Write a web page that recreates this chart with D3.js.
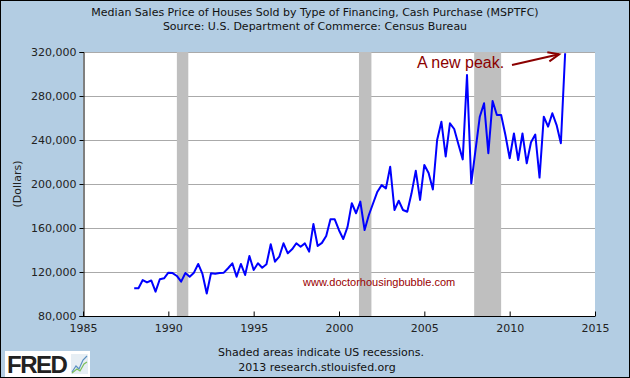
<!DOCTYPE html>
<html><head><meta charset="utf-8">
<script src="https://cdn.jsdelivr.net/npm/d3@7"></script>
<style>body{margin:0;padding:0;background:#fff}svg{display:block}</style>
</head><body>
<script>
const startYear = 1988;
const values = [
105.2,105.2,112.7,110.5,
112.3,102.1,113.4,114.3,
119.4,119.0,116.4,111.2,
119.1,115.7,119.4,127.3,
118.2,100.5,118.8,118.5,
119.0,119.4,123.4,127.9,
115.7,127.3,117.3,134.5,
121.8,127.9,123.9,127.0,
145.2,129.4,133.9,146.1,
137.0,140.6,146.1,143.0,
146.0,138.5,163.6,143.6,
146.5,152.7,167.9,167.9,
158.0,150.0,161.0,182.5,
173.4,184.0,158.2,171.8,
182.5,193.0,199.0,196.0,
215.7,176.4,184.8,176.4,
174.8,191.5,212.0,185.5,
217.3,210.0,195.0,240.0,
256.6,225.0,255.2,250.0,
236.0,222.4,299.1,200.6,
231.0,261.2,273.4,228.0,
275.5,262.7,262.7,244.5,
223.4,246.0,221.8,246.0,
218.8,238.0,245.0,205.8,
261.2,252.1,264.3,253.6,
237.0,318.8
];
const recessions = [[1990.5,1991.17],[2001.17,2001.9],[2007.92,2009.5]];
const xTicks = [1985,1990,1995,2000,2005,2010,2015];
const yTicks = [80000,120000,160000,200000,240000,280000,320000];
const data = values.map((v,i)=>({t:startYear+i*0.25, v:v*1000}));

const W=630,H=378;
const svg=d3.select("body").append("svg").attr("width",W).attr("height",H);
svg.append("rect").attr("x",0.5).attr("y",0.5).attr("width",W-1).attr("height",H-1)
  .attr("fill","#b3cde3").attr("stroke","#000");
const L=83,R=595,T=52,B=316;
const x=d3.scaleLinear().domain([1985,2015]).range([L,R]);
const y=d3.scaleLinear().domain([80000,320000]).range([B,T]);
svg.append("rect").attr("x",L).attr("y",T).attr("width",R-L).attr("height",B-T).attr("fill","#fff");
// gridlines
svg.append("g").selectAll("line").data(yTicks.slice(1)).join("line")
  .attr("x1",L).attr("x2",R).attr("y1",d=>Math.round(y(d))+0.5).attr("y2",d=>Math.round(y(d))+0.5)
  .attr("stroke","#aaaaaa").attr("stroke-width",1);
// recessions
svg.append("g").selectAll("rect").data(recessions).join("rect")
  .attr("x",d=>x(d[0])).attr("width",d=>x(d[1])-x(d[0])).attr("y",T).attr("height",B-T)
  .attr("fill","#bfbfbf");
// axes
const font="DejaVu Sans, Verdana, sans-serif";
const yAxis=svg.append("g").attr("transform",`translate(${L+0.5},0)`)
  .call(d3.axisLeft(y).tickValues(yTicks).tickFormat(d3.format(",")).tickSize(4).tickPadding(3));
yAxis.select(".domain").attr("stroke","#000");
yAxis.selectAll("text").attr("font-family",font).attr("font-size",11).attr("fill","#222");
const xAxis=svg.append("g").attr("transform",`translate(0,${B+0.5})`)
  .call(d3.axisBottom(x).tickValues(xTicks).tickFormat(d3.format("d")).tickSize(-5).tickPadding(8));
xAxis.select(".domain").attr("stroke","#000").attr("d",`M${L},0H${R}`);
xAxis.selectAll("text").attr("font-family",font).attr("font-size",11).attr("fill","#222");
// line
svg.append("path").datum(data).attr("fill","none").attr("stroke","#0000ff").attr("stroke-width",2)
  .attr("stroke-linejoin","round")
  .attr("d",d3.line().x(d=>x(d.t)).y(d=>y(d.v)));
// titles
svg.append("text").attr("x",315).attr("y",16).attr("text-anchor","middle").attr("font-family",font)
  .attr("font-size",11).attr("fill","#111").text("Median Sales Price of Houses Sold by Type of Financing, Cash Purchase (MSPTFC)");
svg.append("text").attr("x",315).attr("y",30).attr("text-anchor","middle").attr("font-family",font)
  .attr("font-size",11).attr("fill","#111").text("Source: U.S. Department of Commerce: Census Bureau");
svg.append("text").attr("transform","translate(21,184) rotate(-90)").attr("text-anchor","middle")
  .attr("font-family",font).attr("font-size",11).attr("fill","#222").text("(Dollars)");
svg.append("text").attr("x",321).attr("y",356).attr("text-anchor","middle").attr("font-family",font)
  .attr("font-size",11).attr("fill","#111").text("Shaded areas indicate US recessions.");
svg.append("text").attr("x",317).attr("y",371).attr("text-anchor","middle").attr("font-family",font)
  .attr("font-size",11).attr("fill","#111").text("2013 research.stlouisfed.org");
// watermark
svg.append("text").attr("x",303).attr("y",286).attr("font-family","Liberation Sans, Arial, sans-serif")
  .attr("font-size",11).attr("fill","#990000").text("www.doctorhousingbubble.com");
// annotation
svg.append("text").attr("x",417).attr("y",68).attr("font-family","Liberation Sans, Arial, sans-serif")
  .attr("font-size",16).attr("fill","#8b0000").text("A new peak.");
const last=data[data.length-1];
const ax1=512, ay1=65, ax2=x(last.t)-6, ay2=y(last.v)+1;
svg.append("line").attr("x1",ax1).attr("y1",ay1).attr("x2",ax2).attr("y2",ay2)
  .attr("stroke","#8b0000").attr("stroke-width",2);
const ang=Math.atan2(ay2-ay1,ax2-ax1);
const hl=12;
const p1=[ax2-hl*Math.cos(ang-0.4),ay2-hl*Math.sin(ang-0.4)];
const p2=[ax2-hl*Math.cos(ang+0.4),ay2-hl*Math.sin(ang+0.4)];
svg.append("path").attr("d",`M${p1[0]},${p1[1]}L${ax2},${ay2}L${p2[0]},${p2[1]}`)
  .attr("fill","none").attr("stroke","#8b0000").attr("stroke-width",2);
// FRED logo
const g=svg.append("g");
g.append("rect").attr("x",5).attr("y",351).attr("width",85).attr("height",26).attr("fill","#fff");
g.append("text").attr("x",7).attr("y",373).attr("font-family","Liberation Sans, Arial, sans-serif")
  .attr("font-weight","bold").attr("font-size",24).attr("fill","#222").attr("letter-spacing",-1.5).text("FRED");
g.append("rect").attr("x",71).attr("y",354).attr("width",17).attr("height",20).attr("fill","#e6eef4");
g.append("path").attr("d","M72,372L76,366L79,369L83,360L87,356").attr("fill","none").attr("stroke","#5a8fc0").attr("stroke-width",1.2);
g.append("path").attr("d","M72,373L77,369L80,371L84,364L87,362").attr("fill","none").attr("stroke","#7cbf5a").attr("stroke-width",1.2);
</script>
</body></html>
